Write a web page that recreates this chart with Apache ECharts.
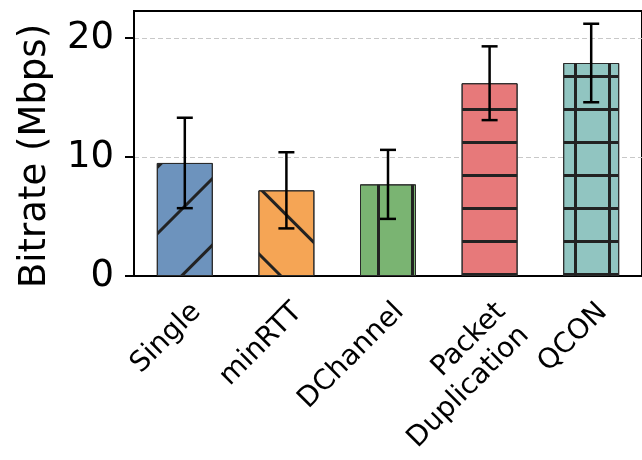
<!DOCTYPE html>
<html>
<head>
<meta charset="utf-8">
<script src="https://cdn.jsdelivr.net/npm/echarts@6/dist/echarts.min.js"></script>
<style>
  html, body { margin: 0; padding: 0; background: #fff; }
  #chart { width: 642px; height: 460px; }
</style>
</head>
<body>
<div id="chart"></div>
<script>
// data
var categories = ['Single', 'minRTT', 'DChannel', 'Packet\nDuplication', 'QCON']
var bitrate = [9.5, 7.2, 7.7, 16.2, 17.9]
var bitrateErr = [3.8, 3.2, 2.9, 3.1, 3.3]
var yTicks = [0, 10, 20]

// styles
var barColors = ['#6d93bd', '#f5a555', '#7ab472', '#e7797a', '#91c5c1']
var hatchColor = '#222'
var font = 'DejaVu Sans'

// hatch patterns done with decals
function hatch(dx, dy, rot) {
    return { symbol: 'rect', symbolSize: 1, color: hatchColor, dashArrayX: dx, dashArrayY: dy, rotation: rot || 0 }
}
var hatches = [
    hatch([[1, 0]], [0, 40, 3, 4], -Math.PI / 4),   // '/'
    hatch([[1, 0]], [0, 42, 3, 2], Math.PI / 4),    // '\'
    hatch([[0, 3, 3, 28]], [1, 0]),                 // '|'
    hatch([[1, 0]], [0, 9, 3, 21]),                 // '-'
    hatch([[1, 0]], [0, 9, 3, 21])                  // '+' (horizontal half)
]

var barData = bitrate.map(function (v, i) {
    return { value: v, itemStyle: { color: barColors[i], decal: hatches[i] } }
})
// vertical half of the '+' hatch on QCON
var crossData = bitrate.map(function (v, i) {
    return i === 4 ? { value: v, itemStyle: { decal: hatch([[0, 30, 3, 1]], [1, 0]) } } : '-'
})
var errData = bitrate.map(function (v, i) {
    return [i, v - bitrateErr[i], v + bitrateErr[i]]
})

var myChart = echarts.init(document.getElementById('chart'))

var option = {
    animation: false,
    textStyle: { fontFamily: font },
    grid: {
        left: 134, right: 0, top: 11, bottom: 184,
        show: true, borderColor: '#000', borderWidth: 2,
        outerBoundsMode: 'none'
    },
    xAxis: {
        type: 'category',
        data: categories,
        axisLine: { lineStyle: { color: '#000', width: 2 } },
        axisTick: { alignWithLabel: true, length: 9, lineStyle: { color: '#000', width: 2 } },
        axisLabel: {
            interval: 0, rotate: 45, align: 'right', verticalAlign: 'top',
            margin: 20, fontSize: 28, lineHeight: 33, color: '#000', fontFamily: font
        }
    },
    yAxis: {
        type: 'value',
        min: 0, max: 22.27, interval: 10,
        name: 'Bitrate (Mbps)',
        nameLocation: 'middle',
        nameGap: 80,
        nameTextStyle: { fontSize: 37, color: '#000', fontFamily: font, padding: [0, 25, 0, 0] },
        axisLine: { show: true, lineStyle: { color: '#000', width: 2 } },
        axisTick: { show: true, length: 9, customValues: yTicks, lineStyle: { color: '#000', width: 2 } },
        axisLabel: { customValues: yTicks, margin: 20, fontSize: 37, color: '#000', fontFamily: font },
        splitLine: { show: true, lineStyle: { color: '#c8c8c8', width: 1, type: [5, 3] } }
    },
    series: [
        {
            type: 'bar',
            data: barData,
            barWidth: 56,
            itemStyle: { borderColor: '#2a2a2a', borderWidth: 1 }
        },
        {
            type: 'bar',
            data: crossData,
            barWidth: 56,
            barGap: '-100%',
            itemStyle: { color: 'rgba(0,0,0,0)', borderWidth: 0 }
        },
        {
            type: 'custom',
            data: errData,
            encode: { x: 0, y: [1, 2] },
            z: 10,
            renderItem: function (params, api) {
                var lo = api.coord([api.value(0), api.value(1)])
                var hi = api.coord([api.value(0), api.value(2)])
                var cap = 8
                var st = { stroke: '#000', lineWidth: 2.5 }
                return {
                    type: 'group',
                    children: [
                        { type: 'line', shape: { x1: lo[0], y1: lo[1], x2: hi[0], y2: hi[1] }, style: st },
                        { type: 'line', shape: { x1: lo[0] - cap, y1: lo[1], x2: lo[0] + cap, y2: lo[1] }, style: st },
                        { type: 'line', shape: { x1: hi[0] - cap, y1: hi[1], x2: hi[0] + cap, y2: hi[1] }, style: st }
                    ]
                }
            }
        }
    ]
}
myChart.setOption(option)
</script>
</body>
</html>
